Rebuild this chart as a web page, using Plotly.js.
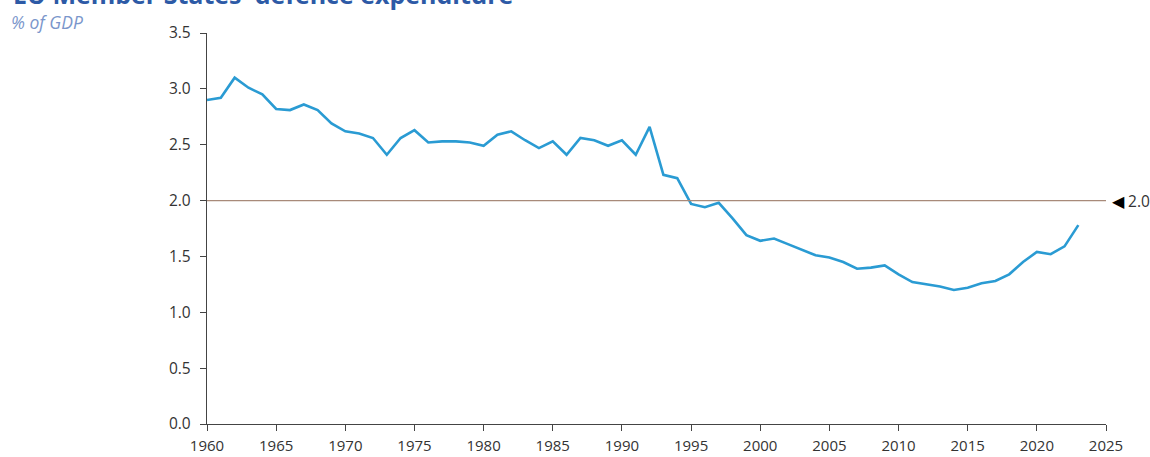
<!DOCTYPE html>
<html>
<head>
<meta charset="utf-8">
<script src="https://cdn.plot.ly/plotly-3.0.1.min.js"></script>
<style>html,body{margin:0;padding:0;background:#fff;}#chart{width:1150px;height:457px;}</style>
</head>
<body>
<div id="chart"></div>
<script>
const years = [1960,1961,1962,1963,1964,1965,1966,1967,1968,1969,1970,1971,1972,1973,1974,1975,1976,1977,1978,1979,1980,1981,1982,1983,1984,1985,1986,1987,1988,1989,1990,1991,1992,1993,1994,1995,1996,1997,1998,1999,2000,2001,2002,2003,2004,2005,2006,2007,2008,2009,2010,2011,2012,2013,2014,2015,2016,2017,2018,2019,2020,2021,2022,2023];
const defenceShare = [2.90,2.92,3.10,3.01,2.95,2.82,2.81,2.86,2.81,2.69,2.62,2.60,2.56,2.41,2.56,2.63,2.52,2.53,2.53,2.52,2.49,2.59,2.62,2.54,2.47,2.53,2.41,2.56,2.54,2.49,2.54,2.41,2.66,2.23,2.20,1.97,1.94,1.98,1.84,1.69,1.64,1.66,1.61,1.56,1.51,1.49,1.45,1.39,1.40,1.42,1.34,1.27,1.25,1.23,1.20,1.22,1.26,1.28,1.34,1.45,1.54,1.52,1.59,1.78];
const natoTarget = 2.0;
const titleText = "EU Member States' defence expenditure";
const subtitleText = "% of GDP";
const targetLabel = "2.0";

const trace = {
  x: years, y: defenceShare, type: 'scatter', mode: 'lines',
  line: {color: '#2a9bd3', width: 2.6},
  hoverinfo: 'x+y'
};

const layout = {
  width: 1150, height: 457,
  margin: {l: 207, r: 44, t: 33, b: 33, pad: 0},
  paper_bgcolor: '#ffffff', plot_bgcolor: '#ffffff',
  showlegend: false,
  font: {family: 'Open Sans, sans-serif', size: 15, color: '#333333'},
  xaxis: {
    range: [1960, 2025], tickmode: 'linear', tick0: 1960, dtick: 5,
    showgrid: false, zeroline: false, showline: true, linecolor: '#444', linewidth: 1.2,
    ticks: 'outside', ticklen: 6, tickcolor: '#444', tickwidth: 1,
    ticklabelstandoff: 2,
    tickfont: {size: 15, color: '#333'}
  },
  yaxis: {
    range: [0, 3.5], tickmode: 'linear', tick0: 0, dtick: 0.5, tickformat: '.1f',
    showgrid: false, zeroline: false, showline: true, linecolor: '#444', linewidth: 1.2,
    ticks: 'outside', ticklen: 6, tickcolor: '#444', tickwidth: 1,
    ticklabelstandoff: 6,
    tickfont: {size: 15.5, color: '#333'}
  },
  shapes: [{
    type: 'line', xref: 'paper', x0: 0, x1: 1, yref: 'y', y0: natoTarget, y1: natoTarget,
    line: {color: '#a88a7a', width: 1.3}
  }],
  annotations: [
    {text: '<b>' + titleText + '</b>', xref: 'paper', yref: 'paper', x: -0.218, y: 1.100,
     xanchor: 'left', yanchor: 'middle', showarrow: false,
     font: {size: 25, color: '#2d5aa6', family: 'Open Sans, sans-serif'}},
    {text: '<i>' + subtitleText + '</i>', xref: 'paper', yref: 'paper', x: -0.220, y: 1.027,
     xanchor: 'left', yanchor: 'middle', showarrow: false,
     font: {size: 17.5, color: '#7a96cb', family: 'Open Sans, sans-serif'}},
    {text: '<span style="color:#000">◀</span> ' + targetLabel, xref: 'paper', yref: 'y', x: 1.004, y: natoTarget,
     xanchor: 'left', yanchor: 'middle', showarrow: false,
     font: {size: 15.5, color: '#333'}}
  ]
};

Plotly.newPlot('chart', [trace], layout, {displayModeBar: false, staticPlot: true});
</script>
</body>
</html>
